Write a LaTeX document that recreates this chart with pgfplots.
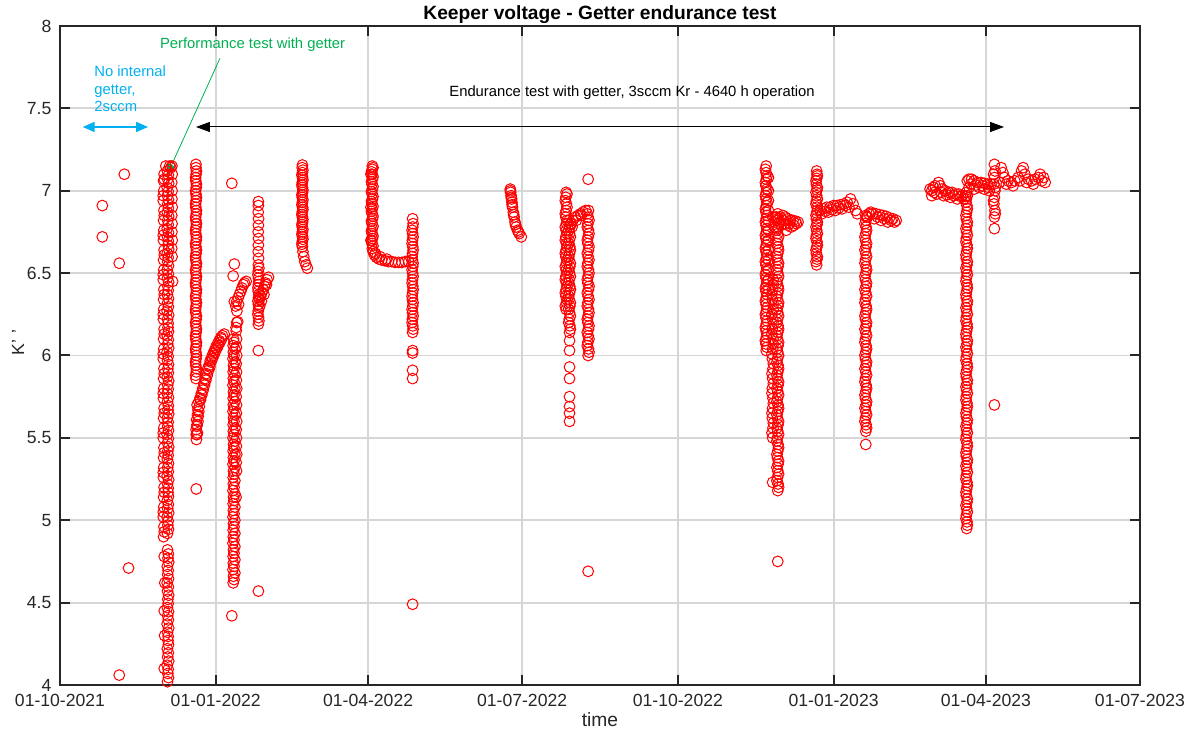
\documentclass[border=0pt]{standalone}
\usepackage{pgfplots}
\pgfplotsset{compat=1.18}
\usepackage{fontspec}
\setmainfont{Liberation Sans}
\usetikzlibrary{arrows.meta}
\definecolor{greenc}{RGB}{0,176,80}
\definecolor{cyanc}{RGB}{0,176,240}
\definecolor{axc}{RGB}{38,38,38}
\pgfplotsset{pts/.style={only marks, mark=o, color=red, mark size=2.7pt, line width=0.5pt, mark options={solid}}}
\begin{document}
\begin{tikzpicture}
\path[use as bounding box] (-30pt,-23.5pt) rectangle (570.5pt,342.5pt);
\begin{axis}[
  at={(0pt,0pt)}, anchor=south west,
  scale only axis, width=540pt, height=329.5pt,
  xmin=0, xmax=638, ymin=4, ymax=8,
  xtick={0,92,182,273,365,457,547,638},
  xticklabels={01-10-2021,01-01-2022,01-04-2022,01-07-2022,01-10-2022,01-01-2023,01-04-2023,01-07-2023},
  ytick={4,4.5,5,5.5,6,6.5,7,7.5,8},
  yticklabels={4,4.5,5,5.5,6,6.5,7,7.5,8},
  tick align=inside, major tick length=5pt,
  tick style={axc, line width=1pt},
  axis line style={axc, line width=1pt},
  grid=major, major grid style={black!16, line width=0.9pt},
  ticklabel style={font=\fontsize{8.8}{10}\selectfont, text=axc},
  xticklabel style={yshift=-1.2pt},
  yticklabel style={xshift=-0.8pt},
  title={Keeper voltage - Getter endurance test},
  every axis title shift=0pt,
  title style={font=\bfseries\fontsize{9.6}{11}\selectfont, at={(axis description cs:0.5,1)}, anchor=base, yshift=3pt},
  xlabel={time},
  xlabel style={font=\fontsize{9.6}{11}\selectfont, text=axc, at={(axis description cs:0.5,0)}, anchor=base, yshift=-21pt},
  ylabel={K'\,\,'},
  ylabel style={font=\fontsize{8.8}{10}\selectfont, text=axc, at={(axis description cs:0,0.52)}, anchor=center, yshift=21pt},
]
% early isolated points
\addplot[pts] coordinates {(25,6.91)(25,6.72)(35,6.56)(38,7.10)(40.5,4.71)(35,4.06)};
% performance test column
\addplot[pts] coordinates {(61.2,4.9)(61.4,4.96)(61.0,5.02)(61.3,5.08)(61.2,5.14)(61.5,5.2)(61.1,5.26)(61.3,5.32)(61.2,5.38)(61.4,5.44)(61.0,5.5)(61.3,5.56)(61.2,5.62)(61.5,5.68)(61.1,5.74)(61.3,5.8)(61.2,5.86)(61.4,5.92)(61.0,5.98)(61.3,6.04)(61.2,6.1)(61.5,6.16)(61.1,6.22)(61.3,6.28)(61.2,6.34)(61.4,6.4)(61.0,6.46)(61.3,6.52)(61.2,6.58)(61.5,6.64)(61.1,6.7)(61.3,6.76)(61.2,6.82)(61.4,6.88)(61.0,6.94)(61.3,7.0)(61.2,7.06)(61.5,7.1)
(61.6,4.1)(61.8,4.3)(61.6,4.45)(61.9,4.62)(61.6,4.78)
(61.6,4.93)(61.0,5.05)(61.6,5.17)(61.0,5.29)(61.6,5.41)(61.0,5.53)(61.6,5.65)(61.0,5.77)(61.6,5.89)(61.0,6.01)(61.6,6.13)(61.0,6.25)(61.6,6.37)(61.0,6.49)(61.6,6.61)(61.0,6.73)(61.6,6.85)(61.0,6.97)(61.6,7.07)};
\addplot[pts] coordinates {(63.5,4.02)(63.7,4.07)(63.3,4.12)(63.6,4.17)(63.4,4.22)(63.8,4.27)(63.5,4.32)(63.3,4.37)(63.6,4.42)(63.4,4.47)(63.7,4.52)(63.5,4.57)(63.3,4.62)(63.6,4.67)(63.4,4.72)(63.8,4.77)(63.5,4.82)
(63.5,4.92)(63.7,4.97)(63.3,5.02)(63.6,5.07)(63.4,5.12)(63.8,5.17)(63.5,5.22)(63.3,5.27)(63.6,5.32)(63.4,5.37)(63.7,5.42)(63.5,5.47)(63.3,5.52)(63.6,5.57)(63.4,5.62)(63.8,5.67)(63.5,5.72)(63.3,5.77)(63.6,5.82)(63.4,5.87)(63.7,5.92)(63.5,5.97)(63.3,6.02)(63.6,6.07)(63.4,6.12)(63.8,6.17)(63.5,6.22)(63.3,6.27)(63.6,6.32)(63.4,6.37)(63.7,6.42)(63.5,6.47)(63.3,6.52)(63.6,6.57)(63.4,6.62)(63.8,6.67)(63.5,6.72)(63.3,6.77)(63.6,6.82)(63.4,6.87)(63.7,6.92)(63.5,6.97)(63.3,7.02)(63.6,7.07)(63.4,7.12)
(64.1,4.045)(63.9,4.095)(64.2,4.145)(64.0,4.195)(64.1,4.245)(63.9,4.295)(64.2,4.345)(64.0,4.395)(64.1,4.445)(63.9,4.495)(64.2,4.545)(64.0,4.595)(64.1,4.645)(63.9,4.695)(64.2,4.745)(64.0,4.795)
(64.1,4.945)(63.9,4.995)(64.2,5.045)(64.0,5.095)(64.1,5.145)(63.9,5.195)(64.2,5.245)(64.0,5.295)(64.1,5.345)(63.9,5.395)(64.2,5.445)(64.0,5.495)(64.1,5.545)(63.9,5.595)(64.2,5.645)(64.0,5.695)(64.1,5.745)(63.9,5.795)(64.2,5.845)(64.0,5.895)(64.1,5.945)(63.9,5.995)(64.2,6.045)(64.0,6.095)(64.1,6.145)(63.9,6.195)(64.2,6.245)(64.0,6.295)(64.1,6.345)(63.9,6.395)(64.2,6.445)(64.0,6.495)(64.1,6.545)(63.9,6.595)(64.2,6.645)(64.0,6.695)(64.1,6.745)(63.9,6.795)(64.2,6.845)(64.0,6.895)(64.1,6.945)(63.9,6.995)(64.2,7.045)(64.0,7.095)
(66.2,6.6)(66.0,6.65)(66.3,6.7)(66.1,6.75)(66.2,6.8)(66.0,6.85)(66.3,6.9)(66.1,6.95)(66.2,7.0)(66.0,7.05)(66.3,7.1)(66.1,7.15)(66.5,6.45)
(62.5,7.15)(64.8,7.15)(65.5,7.14)};
% late Dec 2021 / Jan 2022
\addplot[pts] coordinates {(80.3,5.86)(80.5,5.90)(80.2,5.94)(80.4,5.98)(80.3,6.02)(80.5,6.06)(80.2,6.10)(80.4,6.14)(80.3,6.18)(80.5,6.22)(80.2,6.26)(80.4,6.30)(80.3,6.34)(80.5,6.38)(80.2,6.42)(80.4,6.46)(80.3,6.50)(80.5,6.54)(80.2,6.58)(80.4,6.62)(80.3,6.66)(80.5,6.70)(80.2,6.74)(80.4,6.78)(80.3,6.82)(80.5,6.86)(80.2,6.90)(80.4,6.94)(80.3,6.98)(80.5,7.02)(80.2,7.06)(80.4,7.10)(80.3,7.14)(80.3,7.16)(80.5,5.19)
(80.1,5.88)(80.6,5.92)(80.1,5.96)(80.6,6.00)(80.1,6.04)(80.6,6.08)(80.1,6.12)(80.6,6.16)(80.1,6.20)(80.6,6.24)(80.1,6.28)(80.6,6.32)(80.1,6.36)(80.6,6.40)(80.1,6.44)(80.6,6.48)(80.1,6.52)(80.6,6.56)(80.1,6.60)(80.6,6.64)(80.1,6.68)(80.6,6.72)(80.1,6.76)(80.6,6.80)(80.1,6.84)(80.6,6.88)(80.1,6.92)(80.6,6.96)(80.1,7.00)(80.6,7.04)(80.1,7.08)(80.6,7.12)
(80.6,5.49)(80.9,5.52)(80.4,5.55)(81,5.58)(80.7,5.61)(81.2,5.64)(81.5,5.67)(81,5.7)(82,5.72)(82.7,5.74)(83.5,5.77)(84.3,5.8)(85,5.83)(85.8,5.86)(86.5,5.89)(87.3,5.92)(88,5.94)(88.8,5.97)(89.6,5.99)(90.4,6.01)(91.2,6.03)(92,6.05)(93,6.07)(94,6.09)(95,6.11)(96,6.12)(97,6.13)(80.5,5.52)(81.5,5.6)(82,5.66)
(81.2,5.53)(80.8,5.57)(81.6,5.63)(82.3,5.69)(83,5.73)(83.8,5.76)(84.6,5.79)(85.4,5.82)(86.2,5.85)(87,5.88)(87.8,5.91)(88.5,5.93)(89.2,5.96)(90,5.98)(90.8,6.0)(91.6,6.02)(92.5,6.04)(93.5,6.06)(94.5,6.08)(95.5,6.1)};
\addplot[pts] coordinates {(102.3,4.62)(102.5,4.66)(102.2,4.70)(102.4,4.74)(102.3,4.78)(102.5,4.82)(102.2,4.86)(102.4,4.90)(102.3,4.94)(102.5,4.98)(102.2,5.02)(102.4,5.06)(102.3,5.10)(102.5,5.14)(102.2,5.18)(102.4,5.22)(102.3,5.26)(102.5,5.30)(102.2,5.34)(102.4,5.38)(102.3,5.42)(102.5,5.46)(102.2,5.50)(102.4,5.54)(102.3,5.58)(102.5,5.62)(102.2,5.66)(102.4,5.70)(102.3,5.74)(102.5,5.78)(102.2,5.82)(102.4,5.86)(102.3,5.90)(102.5,5.94)(102.2,5.98)(102.4,6.02)(102.3,6.06)(102.5,6.10)
(102.8,4.64)(103.3,4.68)(102.8,4.72)(103.3,4.76)(102.8,4.80)(103.3,4.84)(102.8,4.88)(103.3,4.92)(102.8,4.96)(103.3,5.00)(102.8,5.04)(103.3,5.08)(102.8,5.12)(103.3,5.16)(102.8,5.20)(103.3,5.24)(102.8,5.28)(103.3,5.32)(102.8,5.36)(103.3,5.40)(102.8,5.44)(103.3,5.48)(102.8,5.52)(103.3,5.56)(102.8,5.60)(103.3,5.64)(102.8,5.68)(103.3,5.72)(102.8,5.76)(103.3,5.80)(102.8,5.84)(103.3,5.88)(102.8,5.92)(103.3,5.96)(102.8,6.00)(103.3,6.04)(102.8,6.08)
(104.3,5.3)(104.1,5.35)(104.4,5.4)(104.2,5.45)(104.3,5.5)(104.1,5.55)(104.4,5.6)(104.2,5.65)(104.3,5.7)(104.1,5.75)(104.4,5.8)(104.2,5.85)(104.3,5.9)(104.1,5.95)(104.4,6.0)(104.2,6.05)(104.3,6.1)(104.1,6.15)(104.4,6.2)(105,6.205)(104,6.17)
(101.5,7.045)(101.5,4.42)(104,5.14)(103,6.555)(102.3,6.483)(103,6.327)
(103.8,6.30)(104.5,6.33)(105.3,6.35)(106,6.37)(106.8,6.39)(107.5,6.41)(108.3,6.43)(109,6.44)(110,6.45)(104.5,6.27)(105.5,6.31)};
\addplot[pts] coordinates {(117.2,6.19)(117.3,6.23)(117.1,6.27)(117.2,6.31)(117.3,6.35)(117.1,6.39)(117.2,6.43)(117.3,6.47)(117.1,6.51)(117.2,6.55)(117.3,6.59)(117.1,6.63)(117.2,6.67)(117.3,6.71)(117.1,6.75)(117.2,6.79)(117.3,6.83)(117.1,6.87)(117.2,6.91)(117.2,6.934)(117.2,6.03)(117.2,4.57)
(117.5,6.21)(116.9,6.25)(117.5,6.29)(116.9,6.33)(117.5,6.37)(116.9,6.41)(117.5,6.45)(116.9,6.49)(117.5,6.53)
(117.8,6.34)(118.5,6.36)(119.2,6.38)(120,6.4)(120.8,6.42)(121.5,6.44)(122.3,6.46)(123.2,6.475)(118,6.3)(119,6.33)(120.5,6.37)(122,6.43)};
% Feb 2022
\addplot[pts] coordinates {(143.2,6.66)(143.1,6.69)(143.3,6.72)(143.2,6.75)(143.1,6.78)(143.3,6.81)(143.2,6.84)(143.1,6.87)(143.3,6.90)(143.2,6.93)(143.1,6.96)(143.3,6.99)(143.2,7.02)(143.1,7.05)(143.3,7.08)(143.2,7.11)(143.1,7.14)(143.2,7.156)
(142.9,6.675)(143.5,6.705)(142.9,6.735)(143.5,6.765)(142.9,6.795)(143.5,6.825)(142.9,6.855)(143.5,6.885)(142.9,6.915)(143.5,6.945)(142.9,6.975)(143.5,7.005)(142.9,7.035)(143.5,7.065)(142.9,7.095)(143.5,7.125)
(143.5,6.63)(144,6.60)(144.6,6.57)(145.3,6.55)(146.1,6.53)};
% Mar-Apr 2022
\addplot[pts] coordinates {(184.5,6.65)(184.3,6.68)(184.6,6.71)(184.4,6.74)(184.5,6.77)(184.3,6.80)(184.6,6.83)(184.4,6.86)(184.5,6.89)(184.3,6.92)(184.6,6.95)(184.4,6.98)(184.5,7.01)(184.3,7.04)(184.6,7.07)(184.4,7.10)(184.5,7.13)(184.5,7.15)(183.7,6.7)(183.7,6.9)(183.7,7.1)
(184.9,6.665)(184.0,6.695)(184.9,6.725)(184.0,6.755)(184.9,6.785)(184.0,6.815)(184.9,6.845)(184.0,6.875)(184.9,6.905)(184.0,6.935)(184.9,6.965)(184.0,6.995)(184.9,7.025)(184.0,7.055)(184.9,7.085)(184.0,7.115)(184.9,7.14)
(185,6.63)(185.8,6.61)(187,6.595)(188.5,6.585)(190,6.58)(192,6.575)(194,6.57)(196,6.57)(198,6.565)(200,6.565)(202,6.565)(204,6.57)(206,6.57)(186.3,6.62)(189,6.6)(193,6.585)};
\addplot[pts] coordinates {(208.3,6.14)(208.4,6.18)(208.2,6.22)(208.3,6.26)(208.4,6.30)(208.2,6.34)(208.3,6.38)(208.4,6.42)(208.2,6.46)(208.3,6.50)(208.4,6.54)(208.2,6.58)(208.3,6.62)(208.4,6.66)(208.2,6.70)(208.3,6.74)(208.4,6.78)(208.3,6.83)
(208.6,6.16)(208.0,6.2)(208.6,6.24)(208.0,6.28)(208.6,6.32)(208.0,6.36)(208.6,6.4)(208.0,6.44)(208.6,6.48)(208.0,6.52)(208.6,6.56)(208.0,6.6)(208.6,6.64)(208.0,6.68)(208.6,6.72)(208.0,6.76)(208.6,6.8)
(208.3,6.03)(208.3,6.015)(208.3,5.91)(208.3,5.86)(208.3,4.49)};
% Jul 2022
\addplot[pts] coordinates {(266,7.01)(266.2,6.99)(266.5,6.97)(266.8,6.95)(267,6.93)(267.3,6.9)(267.8,6.87)(268.3,6.84)(268.8,6.81)(269.5,6.78)(270.3,6.76)(271.3,6.74)(272.5,6.72)(266.1,7.0)(266.6,6.96)(267.1,6.915)(268,6.855)(269.1,6.795)(270.8,6.75)};
% Aug-Sep 2022
\addplot[pts] coordinates {(299,6.28)(299.2,6.32)(298.8,6.36)(299,6.40)(299.2,6.44)(298.8,6.48)(299,6.52)(299.2,6.56)(298.8,6.60)(299,6.64)(299.2,6.68)(298.8,6.72)(299,6.76)(299.2,6.80)(298.8,6.84)(299,6.88)(299.2,6.92)(298.8,6.96)(299,6.99)
(298.5,6.30)(299.5,6.34)(298.5,6.38)(299.5,6.42)(298.5,6.46)(299.5,6.50)(298.5,6.54)(299.5,6.58)(298.5,6.62)(299.5,6.66)(298.5,6.70)(299.5,6.74)(298.5,6.78)(299.5,6.82)(298.5,6.86)(299.5,6.90)(298.5,6.94)(299.5,6.98)
(301,6.14)(301.2,6.18)(300.8,6.22)(301,6.26)(301.2,6.30)(300.8,6.34)(301,6.38)(301.2,6.42)(300.8,6.46)(301,6.50)(301.2,6.54)(300.8,6.58)(301,6.62)(301.2,6.66)(300.8,6.70)(301,6.74)(301.2,6.78)(300.8,6.82)
(301.5,6.16)(300.5,6.20)(301.5,6.24)(300.5,6.28)(301.5,6.32)(300.5,6.36)(301.5,6.40)(300.5,6.44)(301.5,6.48)(300.5,6.52)(301.5,6.56)(300.5,6.60)(301.5,6.64)(300.5,6.68)(301.5,6.72)(300.5,6.76)(301.5,6.80)
(301,6.09)(301,6.03)(301,5.93)(301,5.86)(301,5.75)(301,5.69)(301,5.65)(301,5.60)
(302,6.8)(303,6.82)(304.5,6.84)(306,6.85)(307.5,6.86)(309,6.87)(310.5,6.88)(302.5,6.78)(305,6.82)(308,6.85)
(312,6.00)(312.2,6.04)(311.8,6.08)(312,6.12)(312.2,6.16)(311.8,6.20)(312,6.24)(312.2,6.28)(311.8,6.32)(312,6.36)(312.2,6.40)(311.8,6.44)(312,6.48)(312.2,6.52)(311.8,6.56)(312,6.60)(312.2,6.64)(311.8,6.68)(312,6.72)(312.2,6.76)(311.8,6.80)(312,6.84)(312.2,6.88)
(312.5,6.02)(311.5,6.06)(312.5,6.10)(311.5,6.14)(312.5,6.18)(311.5,6.22)(312.5,6.26)(311.5,6.30)(312.5,6.34)(311.5,6.38)(312.5,6.42)(311.5,6.46)(312.5,6.50)(311.5,6.54)(312.5,6.58)(311.5,6.62)(312.5,6.66)(311.5,6.70)(312.5,6.74)(311.5,6.78)(312.5,6.82)(311.5,6.86)
(312,7.07)(312,4.69)};
% Nov-Dec 2022
\addplot[pts] coordinates {(417.2,6.03)(417.0,6.07)(417.3,6.11)(417.1,6.15)(417.2,6.19)(417.0,6.23)(417.3,6.27)(417.1,6.31)(417.2,6.35)(417.0,6.39)(417.3,6.43)(417.1,6.47)(417.2,6.51)(417.0,6.55)(417.3,6.59)(417.1,6.63)(417.2,6.67)(417.0,6.71)(417.3,6.75)(417.1,6.79)(417.2,6.83)(417.0,6.87)(417.3,6.91)(417.1,6.95)(417.2,6.99)(417.0,7.03)(417.3,7.07)(417.1,7.11)(417.2,7.15)
(417.6,6.05)(416.7,6.09)(417.6,6.13)(416.7,6.17)(417.6,6.21)(416.7,6.25)(417.6,6.29)(416.7,6.33)(417.6,6.37)(416.7,6.41)(417.6,6.45)(416.7,6.49)(417.6,6.53)(416.7,6.57)(417.6,6.61)(416.7,6.65)(417.6,6.69)(416.7,6.73)(417.6,6.77)(416.7,6.81)(417.6,6.85)(416.7,6.89)(417.6,6.93)(416.7,6.97)(417.6,7.01)(416.7,7.05)(417.6,7.09)(416.7,7.13)
(418.5,6.4)(418.5,6.46)(418.5,6.52)(418.5,6.58)(418.5,6.64)(418.5,6.7)(418.5,6.76)(418.5,6.82)(418.5,6.88)(418.5,6.94)(418.5,7.0)(418.5,7.08)
(421,5.5)(421.2,5.56)(420.8,5.62)(421,5.68)(421.2,5.74)(420.8,5.8)(421,5.86)(421.2,5.92)(420.8,5.98)(421,6.04)(421.2,6.1)(420.8,6.16)(421,6.22)(421.2,6.28)(420.8,6.34)(421,6.4)(421.2,6.46)(421,5.23)
(420.6,5.53)(421.4,5.59)(420.6,5.65)(421.4,5.71)(420.6,5.77)(421.4,5.83)(420.6,5.89)(421.4,5.95)(420.6,6.01)(421.4,6.07)(420.6,6.13)(421.4,6.19)(420.6,6.25)(421.4,6.31)(420.6,6.37)(421.4,6.43)};
\addplot[pts] coordinates {(424,5.18)(424.2,5.22)(423.8,5.26)(424,5.30)(424.2,5.34)(423.8,5.38)(424,5.42)(424.2,5.46)(423.8,5.50)(424,5.54)(424.2,5.58)(423.8,5.62)(424,5.66)(424.2,5.70)(423.8,5.74)(424,5.78)(424.2,5.82)(423.8,5.86)(424,5.90)(424.2,5.94)(423.8,5.98)(424,6.02)(424.2,6.06)(423.8,6.10)(424,6.14)(424.2,6.18)(423.8,6.22)(424,6.26)(424.2,6.30)(423.8,6.34)(424,6.38)(424.2,6.42)(423.8,6.46)(424,6.50)(424.2,6.54)(423.8,6.58)(424,6.62)(424.2,6.66)(423.8,6.70)(424,6.74)(424.2,6.78)(423.8,6.82)(424,6.86)(424,4.75)
(424.5,5.20)(423.5,5.24)(424.5,5.28)(423.5,5.32)(424.5,5.36)(423.5,5.40)(424.5,5.44)(423.5,5.48)(424.5,5.52)(423.5,5.56)(424.5,5.60)(423.5,5.64)(424.5,5.68)(423.5,5.72)(424.5,5.76)(423.5,5.80)(424.5,5.84)(423.5,5.88)(424.5,5.92)(423.5,5.96)(424.5,6.00)(423.5,6.04)(424.5,6.08)(423.5,6.12)(424.5,6.16)(423.5,6.20)(424.5,6.24)(423.5,6.28)(424.5,6.32)(423.5,6.36)(424.5,6.40)(423.5,6.44)(424.5,6.48)(423.5,6.52)(424.5,6.56)(423.5,6.60)(424.5,6.64)(423.5,6.68)(424.5,6.72)(423.5,6.76)(424.5,6.80)(423.5,6.84)
(421,6.84)(422.5,6.84)(424,6.83)(425.5,6.84)(427,6.85)(428.5,6.84)(430,6.83)(431.5,6.82)(433,6.82)(434.5,6.815)(436,6.81)
(422,6.78)(424,6.77)(426,6.79)(428,6.8)(430,6.79)(432,6.78)(425,6.81)(429,6.76)(427.5,6.82)(431,6.8)(433.5,6.79)(435,6.8)};
\addplot[pts] coordinates {(447,6.55)(447.2,6.585)(446.8,6.62)(447,6.655)(447.2,6.69)(446.8,6.725)(447,6.76)(447.2,6.795)(446.8,6.83)(447,6.865)(447.2,6.9)(446.8,6.935)(447,6.97)(447.2,7.005)(446.8,7.04)(447,7.075)(447.2,7.1)(447,7.12)
(446.6,6.57)(447.4,6.6)(446.6,6.64)(447.4,6.67)(446.6,6.71)(447.4,6.74)(446.6,6.78)(447.4,6.81)(446.6,6.85)(447.4,6.88)(446.6,6.92)(447.4,6.95)(446.6,6.99)(447.4,7.02)(446.6,7.06)(447.4,7.09)
(449,6.88)(451,6.89)(453,6.9)(455,6.9)(457,6.91)(459,6.91)(461,6.915)(463,6.92)(465,6.93)(467,6.95)(468.5,6.92)(470,6.88)(471,6.86)(450,6.86)(454,6.87)(458,6.88)(462,6.89)(466,6.9)(452,6.875)(456,6.885)(460,6.895)(464,6.91)};
\addplot[pts] coordinates {(476,5.54)(476.2,5.58)(475.8,5.62)(476,5.66)(476.2,5.70)(475.8,5.74)(476,5.78)(476.2,5.82)(475.8,5.86)(476,5.90)(476.2,5.94)(475.8,5.98)(476,6.02)(476.2,6.06)(475.8,6.10)(476,6.14)(476.2,6.18)(475.8,6.22)(476,6.26)(476.2,6.30)(475.8,6.34)(476,6.38)(476.2,6.42)(475.8,6.46)(476,6.50)(476.2,6.54)(475.8,6.58)(476,6.62)(476.2,6.66)(475.8,6.70)(476,6.74)(476.2,6.78)(476,6.82)(476,6.85)(476,5.46)
(476.5,5.56)(475.5,5.60)(476.5,5.64)(475.5,5.68)(476.5,5.72)(475.5,5.76)(476.5,5.80)(475.5,5.84)(476.5,5.88)(475.5,5.92)(476.5,5.96)(475.5,6.00)(476.5,6.04)(475.5,6.08)(476.5,6.12)(475.5,6.16)(476.5,6.20)(475.5,6.24)(476.5,6.28)(475.5,6.32)(476.5,6.36)(475.5,6.40)(476.5,6.44)(475.5,6.48)(476.5,6.52)(475.5,6.56)(476.5,6.60)(475.5,6.64)(476.5,6.68)(475.5,6.72)(476.5,6.76)(475.5,6.80)(476.5,6.84)
(478,6.86)(480,6.86)(482,6.86)(484,6.855)(486,6.85)(488,6.845)(490,6.835)(492,6.83)(494,6.82)(481,6.83)(485,6.82)(489,6.81)(477,6.84)(479,6.87)(483,6.84)(487,6.83)(491,6.82)(493,6.81)};
% Mar-Apr 2023
\addplot[pts] coordinates {(514,7.01)(515,7.0)(516,7.02)(517,7.03)(519,7.05)(520,7.03)(521,7.01)(523,7.0)(525,6.99)(527,6.99)(529,6.98)(531,6.98)(533,6.97)(535,6.965)
(515,6.97)(518,6.98)(522,6.97)(526,6.96)(530,6.95)(534,6.95)(516.5,6.99)(520.5,6.99)(524,6.975)(528,6.97)(532,6.965)
(535.6,4.95)(535.8,4.99)(535.4,5.03)(535.6,5.07)(535.8,5.11)(535.4,5.15)(535.6,5.19)(535.8,5.23)(535.4,5.27)(535.6,5.31)(535.8,5.35)(535.4,5.39)(535.6,5.43)(535.8,5.47)(535.4,5.51)(535.6,5.55)(535.8,5.59)(535.4,5.63)(535.6,5.67)(535.8,5.71)(535.4,5.75)(535.6,5.79)(535.8,5.83)(535.4,5.87)(535.6,5.91)(535.8,5.95)(535.4,5.99)(535.6,6.03)(535.8,6.07)(535.4,6.11)(535.6,6.15)(535.8,6.19)(535.4,6.23)(535.6,6.27)(535.8,6.31)(535.4,6.35)(535.6,6.39)(535.8,6.43)(535.4,6.47)(535.6,6.51)(535.8,6.55)(535.4,6.59)(535.6,6.63)(535.8,6.67)(535.4,6.71)(535.6,6.75)(535.8,6.79)(535.4,6.83)(535.6,6.87)(535.8,6.91)(535.4,6.95)(535.6,6.99)
(536.0,4.97)(535.2,5.01)(536.0,5.05)(535.2,5.09)(536.0,5.13)(535.2,5.17)(536.0,5.21)(535.2,5.25)(536.0,5.29)(535.2,5.33)(536.0,5.37)(535.2,5.41)(536.0,5.45)(535.2,5.49)(536.0,5.53)(535.2,5.57)(536.0,5.61)(535.2,5.65)(536.0,5.69)(535.2,5.73)(536.0,5.77)(535.2,5.81)(536.0,5.85)(535.2,5.89)(536.0,5.93)(535.2,5.97)(536.0,6.01)(535.2,6.05)(536.0,6.09)(535.2,6.13)(536.0,6.17)(535.2,6.21)(536.0,6.25)(535.2,6.29)(536.0,6.33)(535.2,6.37)(536.0,6.41)(535.2,6.45)(536.0,6.49)(535.2,6.53)(536.0,6.57)(535.2,6.61)(536.0,6.65)(535.2,6.69)(536.0,6.73)(535.2,6.77)(536.0,6.81)(535.2,6.85)(536.0,6.89)(535.2,6.93)(536.0,6.97)};
\addplot[pts] coordinates {(536,7.06)(537,7.07)(538.5,7.07)(540,7.06)(542,7.05)(544,7.05)(546,7.045)(548,7.04)(550,7.04)(537,7.02)(540,7.01)(543,7.02)(546,7.01)(549,7.0)(538,7.04)(541,7.035)(545,7.03)(548.5,7.02)
(552,6.84)(552.3,6.88)(551.7,6.92)(552,6.96)(552.3,7.0)(551.7,7.04)(552,7.08)(552.3,7.12)(552,7.16)(552,6.77)(552,5.70)(552.5,6.86)(551.5,6.94)(552.5,7.02)(551.5,7.1)
(555,7.05)(556,7.14)(557,7.11)(558,7.08)(560,7.06)(562,7.05)(564,7.06)(566,7.08)(568,7.12)(569,7.14)(570,7.1)(572,7.07)(574,7.06)(576,7.07)(578,7.08)(580,7.06)(582,7.05)(579,7.1)(559,7.04)(563,7.03)(567,7.06)(571,7.05)(575,7.04)(581,7.08)};
% annotations
\draw[line width=0.5pt, {Triangle[length=7pt,width=5pt]}-{Triangle[length=7pt,width=5pt]}] (axis cs:80.3,7.387) -- (axis cs:557.7,7.387);
\draw[cyanc, line width=0.8pt, {Triangle[length=6pt,width=5pt]}-{Triangle[length=6pt,width=5pt]}] (axis cs:13.4,7.387) -- (axis cs:52,7.387);
\draw[greenc, line width=0.4pt, -{Triangle[length=6pt,width=4.5pt]}] (axis cs:94.5,7.804) -- (axis cs:63,7.09);
\node[anchor=base, text=greenc, font=\fontsize{7.4}{8.8}\selectfont, inner sep=0pt] at (axis cs:113.8,7.865) {Performance test with getter};
\node[anchor=base west, text=cyanc, font=\fontsize{7.4}{8.8}\selectfont, inner sep=0pt] at (axis cs:20.1,7.692) {No internal};
\node[anchor=base west, text=cyanc, font=\fontsize{7.4}{8.8}\selectfont, inner sep=0pt] at (axis cs:20.1,7.586) {getter,};
\node[anchor=base west, text=cyanc, font=\fontsize{7.4}{8.8}\selectfont, inner sep=0pt] at (axis cs:20.1,7.480) {2sccm};
\node[anchor=base west, font=\fontsize{7.4}{8.8}\selectfont, inner sep=0pt] at (axis cs:229.8,7.569) {Endurance test with getter, 3sccm Kr - 4640 h operation};
\end{axis}
\end{tikzpicture}
\end{document}
